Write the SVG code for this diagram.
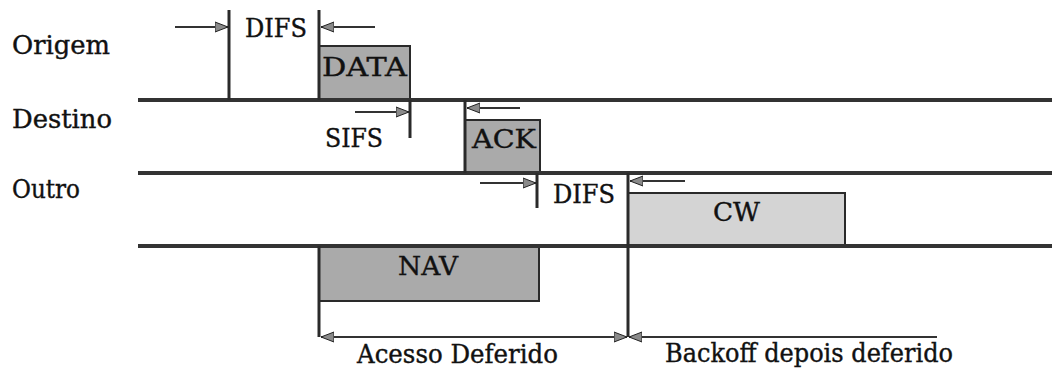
<svg xmlns="http://www.w3.org/2000/svg" width="1052" height="374" viewBox="0 0 1052 374">
<style>
text{font-family:'DejaVu Serif','Liberation Serif',serif;font-size:26px;fill:#111;stroke:#111;stroke-width:0.4}
.tl{stroke:#333;stroke-width:4;fill:none}
.v{stroke:#2a2a2a;stroke-width:3;fill:none}
.a{stroke:#333;stroke-width:2;fill:none;marker-end:url(#ah)}
.box{stroke:#2a2a2a;stroke-width:2}
.dark{fill:#aaaaaa}
.light{fill:#d4d4d4}
</style>
<defs>
<marker id="ah" markerUnits="userSpaceOnUse" markerWidth="14" markerHeight="12" refX="13" refY="6" orient="auto-start-reverse">
<path d="M0,1 L13,6 L0,11 z" fill="#8a8a8a" stroke="#222" stroke-width="1"/>
</marker>
</defs>
<g id="labels">
<text x="12" y="54" textLength="98" lengthAdjust="spacingAndGlyphs">Origem</text>
<text x="12" y="128" textLength="100" lengthAdjust="spacingAndGlyphs">Destino</text>
<text x="12" y="198" textLength="68" lengthAdjust="spacingAndGlyphs">Outro</text>
</g>
<g id="node-data">
<rect class="box dark" x="319" y="46" width="91" height="54"/>
<text x="322" y="76" textLength="85" lengthAdjust="spacingAndGlyphs">DATA</text>
</g>
<g id="node-ack">
<rect class="box dark" x="465" y="120" width="75" height="53"/>
<text x="472" y="148" textLength="64" lengthAdjust="spacingAndGlyphs">ACK</text>
</g>
<g id="node-cw">
<rect class="box light" x="628" y="193" width="217" height="53"/>
<text x="713" y="221" textLength="47" lengthAdjust="spacingAndGlyphs">CW</text>
</g>
<g id="node-nav">
<rect class="box dark" x="319" y="246" width="220" height="55"/>
<text x="398" y="275" textLength="60" lengthAdjust="spacingAndGlyphs">NAV</text>
</g>
<g id="node-difs1"><text x="245" y="37" textLength="62" lengthAdjust="spacingAndGlyphs">DIFS</text></g>
<g id="node-sifs"><text x="325" y="147" textLength="58" lengthAdjust="spacingAndGlyphs">SIFS</text></g>
<g id="node-difs2"><text x="553" y="203" textLength="62" lengthAdjust="spacingAndGlyphs">DIFS</text></g>
<g id="node-acesso"><text x="357" y="363" textLength="201" lengthAdjust="spacingAndGlyphs">Acesso Deferido</text></g>
<g id="node-backoff"><text x="665" y="362" textLength="288" lengthAdjust="spacingAndGlyphs">Backoff depois deferido</text></g>
<g id="connectors">
<line class="tl" x1="138" y1="100" x2="1052" y2="100"/>
<line class="tl" x1="138" y1="173" x2="1052" y2="173"/>
<line class="tl" x1="138" y1="246" x2="1052" y2="246"/>
<line class="v" x1="229" y1="10" x2="229" y2="100"/>
<line class="v" x1="319" y1="10" x2="319" y2="100"/>
<line class="v" x1="410" y1="100" x2="410" y2="138"/>
<line class="v" x1="465" y1="100" x2="465" y2="173"/>
<line class="v" x1="537" y1="173" x2="537" y2="208"/>
<line class="v" x1="628" y1="173" x2="628" y2="337"/>
<line class="v" x1="319" y1="246" x2="319" y2="337"/>
<line class="a" x1="175" y1="27" x2="228" y2="27"/>
<line class="a" x1="375" y1="27" x2="321" y2="27"/>
<line class="a" x1="355" y1="112" x2="409" y2="112"/>
<line class="a" x1="520" y1="108" x2="467" y2="108"/>
<line class="a" x1="480" y1="183" x2="536" y2="183"/>
<line class="a" x1="685" y1="181" x2="630" y2="181"/>
<line class="a" x1="321" y1="337" x2="627" y2="337" style="marker-start:url(#ah)"/>
<line class="a" x1="937" y1="337" x2="629" y2="337"/>
</g>
</svg>
